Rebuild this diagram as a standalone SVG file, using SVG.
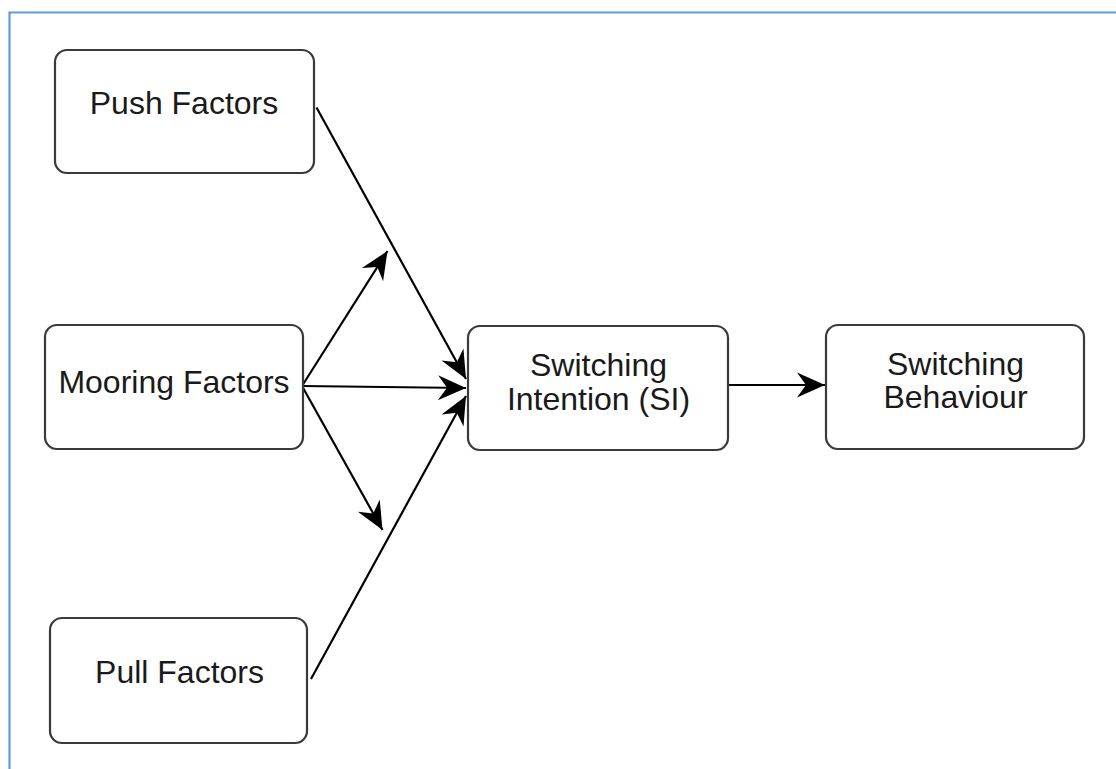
<svg xmlns="http://www.w3.org/2000/svg" width="1116" height="769" viewBox="0 0 1116 769">
  <style>
    .box { fill: #ffffff; stroke: #3a3a3a; stroke-width: 2.2; }
    .label { font-family: "Liberation Sans", Arial, sans-serif; font-size: 32px; fill: #1a1a1a; text-anchor: middle; }
    .edge { fill: none; stroke: #000000; stroke-width: 2.2; }
  </style>
  <defs>
    <marker id="arrow" viewBox="-29 -14 31 28" refX="0" refY="0" markerWidth="31" markerHeight="28" markerUnits="userSpaceOnUse" orient="auto">
      <path d="M0,0 L-28,-12.5 L-19,0 L-28,12.5 Z" fill="#000000"/>
    </marker>
  </defs>
  <rect width="1116" height="769" fill="#ffffff"/>
  <!-- frame -->
  <path d="M9.5,769 L9.5,12.5 L1116,12.5" fill="none" stroke="#5d9ddb" stroke-width="2.2"/>

  <g id="connectors">
    <line class="edge" x1="316.5" y1="107.5" x2="466" y2="379" marker-end="url(#arrow)"/>
    <line class="edge" x1="302" y1="386" x2="387.5" y2="251" marker-end="url(#arrow)"/>
    <line class="edge" x1="302" y1="386" x2="466" y2="388" marker-end="url(#arrow)"/>
    <line class="edge" x1="302" y1="386" x2="382.5" y2="530" marker-end="url(#arrow)"/>
    <line class="edge" x1="311" y1="679" x2="466" y2="396" marker-end="url(#arrow)"/>
    <line class="edge" x1="728" y1="385" x2="825" y2="385" marker-end="url(#arrow)"/>
  </g>

  <g id="push">
    <rect class="box" x="55" y="50" width="259" height="123" rx="12"/>
    <text class="label" x="184" y="113.5">Push Factors</text>
  </g>
  <g id="mooring">
    <rect class="box" x="45" y="325" width="258" height="124" rx="12"/>
    <text class="label" x="174" y="392.5">Mooring Factors</text>
  </g>
  <g id="pull">
    <rect class="box" x="50" y="618" width="257" height="125" rx="12"/>
    <text class="label" x="179.5" y="682.5">Pull Factors</text>
  </g>
  <g id="intention">
    <rect class="box" x="468" y="326" width="260" height="124" rx="12"/>
    <text class="label" x="598.5" y="375.5">Switching</text>
    <text class="label" x="598.5" y="409.5">Intention (SI)</text>
  </g>
  <g id="behaviour">
    <rect class="box" x="826" y="325" width="258" height="124" rx="12"/>
    <text class="label" x="955.5" y="374.5">Switching</text>
    <text class="label" x="955.5" y="407.5">Behaviour</text>
  </g>
</svg>
